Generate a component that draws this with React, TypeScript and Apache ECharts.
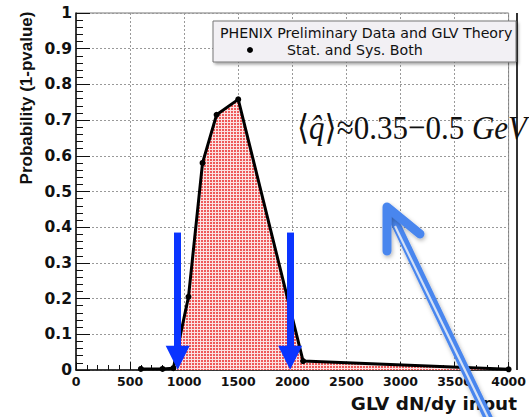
import React, { useEffect, useRef } from "react";
import * as echarts from "echarts";

// ---- data ----
const glvInput = [600, 800, 900, 1040, 1170, 1300, 1500, 2100, 4000];
const probability = [0.003, 0.003, 0.005, 0.205, 0.58, 0.715, 0.758, 0.025, 0.002];
const bandArrowsX = [940, 1980];
const bandArrowTop = 0.385;
const seriesName = "Stat. and Sys. Both";
const legendTitle = "PHENIX Preliminary Data and GLV Theory";
const xTitle = "GLV dN/dy input";
const yTitle = "Probability (1-pvalue)";

export default function App() {
  const ref = useRef<HTMLDivElement>(null);
  useEffect(() => {
    if (!ref.current) return;
    const chart = echarts.init(ref.current, null, { renderer: "svg" });

    const c = document.createElement("canvas");
    c.width = 3;
    c.height = 3;
    const ctx = c.getContext("2d");
    if (ctx) {
      ctx.fillStyle = "#fbe2e2";
      ctx.fillRect(0, 0, 3, 3);
      ctx.fillStyle = "#ee5a5a";
      ctx.fillRect(0, 0, 2, 2);
    }

    const tickFont = { fontFamily: "DejaVu Sans", fontWeight: "bold" as const, color: "#111" };
    const blue = "#4a86ee";

    chart.setOption({
      animation: false,
      backgroundColor: "#fff",
      grid: { left: 76, right: 12, top: 13, bottom: 47, show: true, borderColor: "#777", borderWidth: 1 },
      xAxis: {
        type: "value",
        min: 0,
        max: 4000,
        interval: 500,
        axisLine: { show: true, lineStyle: { color: "#111", width: 1.5 } },
        axisTick: { show: true, inside: true, length: 8, lineStyle: { color: "#111" } },
        minorTick: { show: true, splitNumber: 5, length: 5, lineStyle: { color: "#111" } },
        splitLine: { show: true, lineStyle: { color: "#999", type: [2, 2], width: 1 } },
        axisLabel: { ...tickFont, fontSize: 12.5, margin: 5, formatter: (v: number) => String(v) },
      },
      yAxis: {
        type: "value",
        min: 0,
        max: 1,
        interval: 0.1,
        axisLine: { show: true, lineStyle: { color: "#111", width: 1.5 } },
        axisTick: { show: true, inside: true, length: 14, lineStyle: { color: "#111" } },
        minorTick: { show: true, splitNumber: 5, length: 7, lineStyle: { color: "#111" } },
        splitLine: { show: true, lineStyle: { color: "#999", type: [2, 2], width: 1 } },
        axisLabel: {
          ...tickFont,
          fontSize: 15.5,
          margin: 4,
          formatter: (v: number) => (v === 0 || v === 1 ? String(v) : v.toFixed(1)),
        },
      },
      series: [
        {
          name: seriesName,
          type: "line",
          data: glvInput.map((x, i) => [x, probability[i]]),
          symbol: "circle",
          symbolSize: 6,
          itemStyle: { color: "#000" },
          lineStyle: { color: "#000", width: 3 },
          areaStyle: { color: { image: c, repeat: "repeat" } as any, opacity: 1 },
          z: 3,
          markLine: {
            silent: true,
            symbol: ["none", "triangle"],
            symbolSize: [24, 24],
            label: { show: false },
            lineStyle: { color: "#0a34ff", width: 7, type: "solid" },
            data: bandArrowsX.map((x) => [
              { coord: [x, bandArrowTop] },
              { coord: [x, 0.034] },
            ]),
            z: 5,
          },
        },
      ],
      graphic: [
        {
          type: "line",
          z: 50,
          shape: { x1: 517, y1: 13, x2: 517, y2: 370 },
          style: { stroke: "#333", lineWidth: 2 },
        },
        {
          type: "rect",
          z: 100,
          shape: { x: 213, y: 21, width: 303, height: 41 },
          style: {
            fill: "#f2f0f4",
            stroke: "#777",
            lineWidth: 1,
            shadowBlur: 3,
            shadowOffsetX: 2,
            shadowOffsetY: 2,
            shadowColor: "rgba(0,0,0,0.35)",
          },
        },
        {
          type: "text",
          z: 101,
          x: 220,
          y: 33,
          style: {
            text: legendTitle,
            fontFamily: "DejaVu Sans",
            fontSize: 14.2,
            fill: "#111",
            textVerticalAlign: "middle",
          },
        },
        {
          type: "circle",
          z: 101,
          shape: { cx: 250, cy: 50, r: 3 },
          style: { fill: "#000" },
        },
        {
          type: "text",
          z: 101,
          x: 287,
          y: 50,
          style: {
            text: seriesName,
            fontFamily: "DejaVu Sans",
            fontSize: 14.2,
            fill: "#111",
            textVerticalAlign: "middle",
          },
        },
        {
          type: "text",
          z: 60,
          x: 297,
          y: 127,
          scaleY: 1.12,
          style: {
            text: "{a|⟨}{i|q̂}{a|⟩≈0.35−0.5 }{i|GeV}",
            fill: "#111",
            textVerticalAlign: "middle",
            rich: {
              a: { fontFamily: "Liberation Serif, DejaVu Serif, serif", fontSize: 31, fill: "#111" },
              i: {
                fontFamily: "Liberation Serif, DejaVu Serif, serif",
                fontSize: 31,
                fontStyle: "italic",
                fill: "#111",
              },
            },
          },
        },
        {
          type: "text",
          z: 60,
          x: 26,
          y: 98,
          rotation: Math.PI / 2,
          style: {
            text: yTitle,
            fontFamily: "Liberation Sans",
            fontWeight: "bold",
            fontSize: 17,
            fill: "#111",
            textAlign: "center",
            textVerticalAlign: "middle",
          },
        },
        {
          type: "text",
          z: 60,
          x: 517,
          y: 403,
          style: {
            text: xTitle,
            fontFamily: "DejaVu Sans",
            fontWeight: "bold",
            fontSize: 18.4,
            fill: "#111",
            textAlign: "right",
            textVerticalAlign: "middle",
          },
        },
        {
          type: "line",
          z: 70,
          shape: { x1: 391, y1: 214, x2: 493, y2: 428 },
          style: {
            stroke: blue,
            lineWidth: 9,
            shadowBlur: 4,
            shadowColor: "rgba(0,0,0,0.3)",
            shadowOffsetX: 1,
            shadowOffsetY: 2,
          },
        },
        {
          type: "line",
          z: 71,
          shape: { x1: 395, y1: 226, x2: 493, y2: 428 },
          style: { stroke: "#d4e1f6", lineWidth: 2.2 },
        },
        {
          type: "polyline",
          z: 72,
          shape: { points: [[387, 251], [387, 207], [420, 234]] },
          style: {
            stroke: blue,
            fill: "none",
            lineWidth: 9,
            lineCap: "round",
            lineJoin: "round",
            shadowBlur: 4,
            shadowColor: "rgba(0,0,0,0.3)",
            shadowOffsetX: 1,
            shadowOffsetY: 2,
          },
        },
      ],
    });
    return () => chart.dispose();
  }, []);
  return <div ref={ref} style={{ width: 529, height: 417, position: "absolute", left: 0, top: 0 }} />;
}
